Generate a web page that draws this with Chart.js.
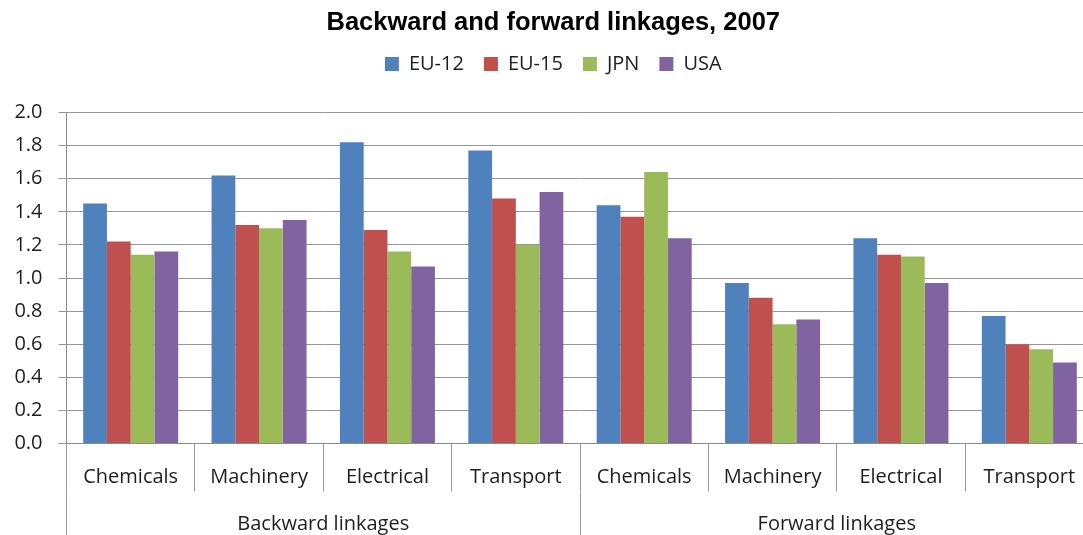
<!DOCTYPE html>
<html><head><meta charset="utf-8">
<script src="https://cdn.jsdelivr.net/npm/chart.js@4.4.1/dist/chart.umd.min.js"></script>
<style>
html,body{margin:0;padding:0;overflow:hidden;background:#fff;}
#wrap{position:relative;width:1112px;height:535px;}
</style></head><body>
<div id="wrap"><canvas id="c"></canvas></div>
<script>
const chartTitle = 'Backward and forward linkages, 2007';
const categories = ['Chemicals','Machinery','Electrical','Transport','Chemicals','Machinery','Electrical','Transport'];
const groups = ['Backward linkages','Forward linkages'];
const seriesNames = ['EU-12','EU-15','JPN','USA'];
const eu12 = [1.45, 1.62, 1.82, 1.77, 1.44, 0.97, 1.24, 0.77];
const eu15 = [1.22, 1.32, 1.29, 1.48, 1.37, 0.88, 1.14, 0.60];
const jpn  = [1.14, 1.30, 1.16, 1.20, 1.64, 0.72, 1.13, 0.57];
const usa  = [1.16, 1.35, 1.07, 1.52, 1.24, 0.75, 0.97, 0.49];
const yTickValues = [0.0, 0.2, 0.4, 0.6, 0.8, 1.0, 1.2, 1.4, 1.6, 1.8, 2.0];
const yTickLabels = ['0.0','0.2','0.4','0.6','0.8','1.0','1.2','1.4','1.6','1.8','2.0'];

const colors = ['#4F81BD','#C0504D','#9BBB59','#8064A2'];
const seriesData = [eu12, eu15, jpn, usa];
const FONT = "'Open Sans', 'Noto Sans', sans-serif";
const TEXT = '#1e1e1e';
const GRID = '#979797';

const legendSpace = {
  id: 'legendSpace',
  afterInit(chart) {
    const lg = chart.legend;
    if (!lg) return;
    const orig = lg.fit;
    lg.fit = function() { orig.call(this); this.height = 78.5; };
  }
};

new Chart(document.getElementById('c'), {
  type: 'bar',
  data: {
    labels: categories,
    datasets: seriesNames.map((n, i) => ({
      label: n,
      data: seriesData[i],
      backgroundColor: colors[i],
      borderWidth: 0,
      categoryPercentage: 0.74,
      barPercentage: 1.0,
      xAxisID: 'x',
      yAxisID: 'y'
    }))
  },
  options: {
    responsive: true,
    maintainAspectRatio: false,
    animation: false,
    layout: { padding: { left: 13, right: 18.5, top: 0, bottom: 0 } },
    plugins: {
      title: {
        display: true,
        text: chartTitle,
        color: '#000',
        font: { family: "'Liberation Sans', Arial, sans-serif", size: 25.5, weight: 'bold' },
        padding: { top: 8, bottom: -4.6 }
      },
      legend: {
        display: true,
        position: 'top',
        labels: {
          boxWidth: 14, boxHeight: 14, padding: 20,
          color: TEXT,
          font: { family: FONT, size: 20 }
        }
      },
      tooltip: { enabled: false }
    },
    scales: {
      x: {
        type: 'category',
        position: 'bottom',
        offset: true,
        afterFit(scale) { scale.height = 48.5; },
        grid: { display: true, drawOnChartArea: false, drawTicks: true, offset: true, tickLength: 48, color: GRID, lineWidth: 1 },
        border: { display: true, color: '#8c8c8c' },
        ticks: { color: TEXT, font: { family: FONT, size: 20 }, padding: -26.5, autoSkip: false, maxRotation: 0, minRotation: 0 }
      },
      x2: {
        type: 'category',
        position: 'bottom',
        labels: groups,
        offset: true,
        afterFit(scale) { scale.height = 43; },
        grid: { display: true, drawOnChartArea: false, drawTicks: true, offset: true, tickLength: 43, color: GRID, lineWidth: 1 },
        border: { display: false },
        ticks: { color: TEXT, font: { family: FONT, size: 20 }, padding: -23, autoSkip: false, maxRotation: 0, minRotation: 0 }
      },
      y: {
        type: 'linear',
        min: 0, max: 2,
        afterBuildTicks(scale) { scale.ticks = yTickValues.map(v => ({ value: v })); },
        afterFit(scale) { scale.width = 53.5; },
        grid: { color: GRID, lineWidth: 1, drawTicks: true, tickLength: 8 },
        border: { display: true, color: '#8c8c8c' },
        ticks: {
          color: TEXT, font: { family: FONT, size: 20 }, padding: 16,
          callback: (v) => { const i = yTickValues.findIndex(t => Math.abs(t - v) < 1e-9); return i >= 0 ? yTickLabels[i] : ''; }
        }
      }
    }
  },
  plugins: [legendSpace]
});
</script>
</body></html>
